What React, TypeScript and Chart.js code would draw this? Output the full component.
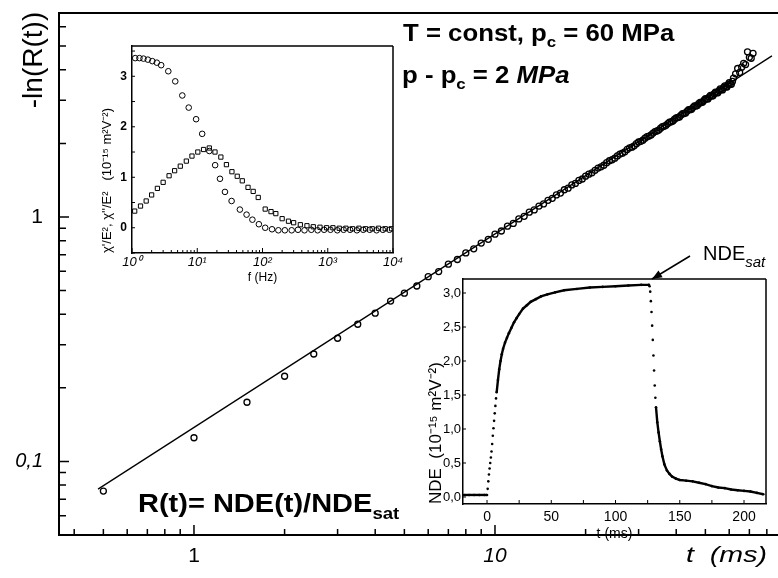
import React, { useEffect, useRef } from "react";
import { Chart, registerables } from "chart.js";

Chart.register(...registerables);

const FONT = "'Liberation Sans', Arial, Helvetica, sans-serif";

// ---------------- main plot: -ln(R(t)) versus t (ms), log-log ----------------
const timeMs = [
  0.5, 1, 1.5, 2, 2.5, 3, 3.5, 4, 4.5, 5, 5.5, 6, 6.5, 7, 7.5, 8, 8.5, 9, 9.5, 10,
  10.5, 11, 11.5, 12, 12.5, 13, 13.5, 14, 14.5, 15, 15.5, 16, 16.5, 17, 17.5, 18, 18.5, 19, 19.5, 20,
  20.5, 21, 21.5, 22, 22.5, 23, 23.5, 24, 24.5, 25,
  25.5, 26, 26.5, 27, 27.5, 28, 28.5, 29, 29.5, 30,
  30.5, 31, 31.5, 32, 32.5, 33, 33.5, 34, 34.5, 35,
  35.5, 36, 36.5, 37, 37.5, 38, 38.5, 39, 39.5, 40,
  40.5, 41, 41.5, 42, 42.5, 43, 43.5, 44, 44.5, 45,
  45.5, 46, 46.5, 47, 47.5, 48, 48.5, 49, 49.5, 50,
  50.5, 51, 51.5, 52, 52.5, 53, 53.5, 54, 54.5, 55,
  55.5, 56, 56.5, 57, 57.5, 58, 58.5, 59, 59.5, 60,
  60.5, 61, 61.5, 62,
  63, 64, 65, 66, 67, 68, 69, 70, 71, 72,
];
const minusLnR = [
  0.0756, 0.125, 0.1746, 0.223, 0.275, 0.319, 0.364, 0.404, 0.453, 0.488, 0.522, 0.57, 0.598, 0.641, 0.67, 0.713, 0.741, 0.782, 0.81, 0.85,
  0.876, 0.917, 0.941, 0.982, 1.006, 1.046, 1.069, 1.108, 1.131, 1.17, 1.192, 1.231, 1.253, 1.292, 1.312, 1.352, 1.371, 1.411, 1.43, 1.469,
  1.497, 1.516, 1.552, 1.585, 1.603, 1.628, 1.668, 1.698, 1.714, 1.74,
  1.778, 1.808, 1.823, 1.848, 1.889, 1.918, 1.93, 1.955, 1.995, 2.026,
  2.04, 2.062, 2.101, 2.131, 2.143, 2.166, 2.205, 2.236, 2.247, 2.268,
  2.308, 2.34, 2.35, 2.37, 2.411, 2.442, 2.45, 2.47, 2.513, 2.545,
  2.552, 2.567, 2.612, 2.646, 2.65, 2.665, 2.712, 2.745, 2.748, 2.76,
  2.81, 2.845, 2.845, 2.855, 2.907, 2.945, 2.94, 2.95, 3.003, 3.045,
  3.035, 3.04, 3.098, 3.142, 3.128, 3.13, 3.195, 3.24, 3.225, 3.22,
  3.29, 3.34, 3.318, 3.31, 3.385, 3.44, 3.41, 3.4, 3.476, 3.54,
  3.5, 3.49, 3.585, 3.7,
  3.85, 4.05, 3.9, 4.1, 4.25, 4.2, 4.74, 4.5, 4.46, 4.67,
];
const fitTimeMs = [0.48, 83.2];
const fitMinusLnR = [0.077, 4.56];
const mainXTickValues = [1, 10];
const mainXTickLabels = ["1", "10"];
const mainYTickValues = [0.1, 1];
const mainYTickLabels = ["0,1", "1"];

// ---------------- inset 1: susceptibility spectra ----------------
const chiRealFreqHz = [
  1.12, 1.3, 1.5, 1.75, 2.05, 2.4, 2.8, 3.6, 4.6, 5.9, 7.4, 9.6, 11.9, 15.3, 18.8, 22.3, 26.6,
  33.6, 45, 57, 70, 88, 110, 140, 175, 220, 280, 350, 440, 560, 700, 880, 1100, 1400, 1750,
  2200, 2800, 3500, 4400, 5600, 7000, 8800,
];
const chiReal = [
  3.36, 3.36, 3.35, 3.33, 3.3, 3.27, 3.22, 3.1, 2.9, 2.62, 2.38, 2.15, 1.86, 1.52, 1.24, 0.97, 0.71,
  0.53, 0.36, 0.26, 0.16, 0.07, 0.0, -0.03, -0.05, -0.05, -0.05, -0.04, -0.05, -0.04, -0.05, -0.04,
  -0.04, -0.05, -0.04, -0.04, -0.05, -0.04, -0.04, -0.05, -0.04, -0.04,
];
const chiImagFreqHz = [
  1.1, 1.35, 1.65, 2.0, 2.45, 3.0, 3.7, 4.5, 5.5, 6.8, 8.3, 10.2, 12.5, 15.3, 18.7, 23, 28, 34, 41,
  49, 60, 72, 86, 110, 135, 160, 200, 250, 300, 380, 480, 600, 760, 960, 1200, 1500, 1900, 2400,
  3000, 3800, 4800, 6000, 7600, 9500,
];
const chiImag = [
  0.33, 0.43, 0.53, 0.65, 0.78, 0.9, 1.03, 1.13, 1.22, 1.32, 1.42, 1.5, 1.55, 1.58, 1.5, 1.4, 1.25,
  1.11, 1.02, 0.93, 0.8, 0.72, 0.6, 0.37, 0.32, 0.28, 0.18, 0.13, 0.1, 0.06, 0.04, 0.02, 0.01, 0.0,
  0.0, -0.01, -0.01, -0.02, -0.01, -0.02, -0.02, -0.01, -0.02, -0.02,
];
const inset1XTickValues = [1, 10, 100, 1000, 10000];
const inset1XTickLabels = ["10\u2070", "10\u00B9", "10\u00B2", "10\u00B3", "10\u2074"];
const inset1YTickValues = [0, 1, 2, 3];
const inset1YTickLabels = ["0", "1", "2", "3"];

// ---------------- inset 2: NDE(t) ----------------
const ndeTimeMs = [
  -18, -14, -10, -6, -2, 0,
  0.5, 1, 1.5, 2, 2.5, 3, 3.5, 4, 4.5, 5, 5.5, 6, 6.5, 7, 7.5,
  8.5, 9.5, 10.5, 11.5, 12.5, 14, 15.5, 17, 19, 21, 23, 25, 28, 31, 34, 38, 42, 47, 53, 60, 70, 80,
  90, 100, 110, 120, 126,
  126.5, 127, 127.5, 128, 128.5, 129, 129.5, 130, 130.5, 131, 131.5,
  132.5, 133.5, 134.5, 135.5, 136.5, 138, 140, 142, 144, 147, 150, 155, 160, 165, 170, 175, 180,
  185, 190, 195, 200, 205, 210, 215,
];
const ndeValue = [
  0.03, 0.03, 0.03, 0.03, 0.03, 0.03,
  0.12, 0.23, 0.33, 0.42, 0.5, 0.58, 0.67, 0.78, 0.9, 1.01, 1.12, 1.23, 1.34, 1.45, 1.54,
  1.72, 1.88, 2.0, 2.1, 2.18, 2.27, 2.34, 2.41, 2.49, 2.57, 2.63, 2.69, 2.77, 2.82, 2.87, 2.91, 2.95,
  2.98, 3.01, 3.04, 3.06, 3.08, 3.09, 3.1, 3.11, 3.12, 3.12,
  3.1, 3.02, 2.88, 2.72, 2.52, 2.31, 2.08, 1.86, 1.64, 1.46, 1.32,
  1.1, 0.95, 0.82, 0.7, 0.6, 0.48, 0.39, 0.34, 0.3, 0.27, 0.25, 0.24, 0.23, 0.21, 0.19, 0.16, 0.14,
  0.13, 0.11, 0.1, 0.09, 0.08, 0.06, 0.04,
];
const inset2XTickValues = [0, 50, 100, 150, 200];
const inset2YTickValues = [0, 0.5, 1, 1.5, 2, 2.5, 3];
const inset2YTickLabels = ["0,0", "0,5", "1,0", "1,5", "2,0", "2,5", "3,0"];

// ---------------- helpers ----------------
type TickMark = { v: number; len: number };

function logTickMarks(min: number, max: number, majorLen: number, minorLen: number): TickMark[] {
  const out: TickMark[] = [];
  const e0 = Math.floor(Math.log10(min));
  const e1 = Math.ceil(Math.log10(max));
  for (let e = e0; e <= e1; e++) {
    for (let m = 1; m <= 9; m++) {
      const v = m * Math.pow(10, e);
      if (v >= min * 0.9999 && v <= max * 1.0001) out.push({ v, len: m === 1 ? majorLen : minorLen });
    }
  }
  return out;
}

function linTickMarks(from: number, to: number, step: number, len: number): TickMark[] {
  const out: TickMark[] = [];
  const n = Math.round((to - from) / step);
  for (let i = 0; i <= n; i++) out.push({ v: from + i * step, len });
  return out;
}

// fix a scale's size and drop the extra label overhang padding
function fixSize(size: number) {
  return (s: any) => {
    if (s.isHorizontal()) s.height = size;
    else s.width = size;
    s.paddingTop = 0;
    s.paddingBottom = 0;
    s.paddingLeft = 0;
    s.paddingRight = 0;
  };
}

const noGrid = { display: false, drawTicks: false };

function framePlugin(opts: {
  x: TickMark[];
  y: TickMark[];
  top: boolean;
  right: boolean;
  frameWidth: number;
  tickWidth: number;
}) {
  return {
    id: "frameTicks",
    afterDraw(chart: any) {
      const { ctx, chartArea: a, scales } = chart;
      ctx.save();
      ctx.strokeStyle = "#000";
      ctx.lineWidth = opts.tickWidth;
      ctx.beginPath();
      for (const t of opts.x) {
        const px = scales.x.getPixelForValue(t.v);
        ctx.moveTo(px, a.bottom);
        ctx.lineTo(px, a.bottom - t.len);
      }
      for (const t of opts.y) {
        const py = scales.y.getPixelForValue(t.v);
        ctx.moveTo(a.left, py);
        ctx.lineTo(a.left + t.len, py);
      }
      ctx.stroke();
      ctx.lineWidth = opts.frameWidth;
      ctx.beginPath();
      if (opts.top) {
        ctx.moveTo(a.left, a.top);
        ctx.lineTo(a.right, a.top);
      }
      if (opts.right) {
        ctx.moveTo(a.right, a.top);
        ctx.lineTo(a.right, a.bottom);
      }
      ctx.stroke();
      ctx.restore();
    },
  };
}

type Run = { text: string; font: string; dy?: number };
function drawRuns(ctx: CanvasRenderingContext2D, runs: Run[], x: number, y: number, sx = 1) {
  ctx.save();
  ctx.translate(x, y);
  ctx.scale(sx, 1);
  ctx.textAlign = "left";
  ctx.textBaseline = "alphabetic";
  let cx = 0;
  for (const r of runs) {
    ctx.font = r.font;
    ctx.fillText(r.text, cx, r.dy || 0);
    cx += ctx.measureText(r.text).width;
  }
  ctx.restore();
}

const mainTextPlugin = {
  id: "mainText",
  afterDraw(chart: any) {
    const ctx: CanvasRenderingContext2D = chart.ctx;
    ctx.save();
    ctx.fillStyle = "#000";
    ctx.strokeStyle = "#000";

    // y axis title
    ctx.save();
    ctx.translate(42, 60);
    ctx.rotate(-Math.PI / 2);
    ctx.textAlign = "center";
    ctx.textBaseline = "alphabetic";
    ctx.font = `28px ${FONT}`;
    ctx.fillText("-ln(R(t))", 0, 0);
    ctx.restore();

    // x axis title
    drawRuns(ctx, [{ text: "t  (ms)", font: `italic 22px ${FONT}` }], 686, 562, 1.3);

    // conditions
    const b23 = `bold 23px ${FONT}`;
    const b15 = `bold 15px ${FONT}`;
    drawRuns(
      ctx,
      [
        { text: "T = const, p", font: b23 },
        { text: "c", font: b15, dy: 6 },
        { text: " = 60 MPa", font: b23 },
      ],
      403,
      41,
      1.12
    );
    drawRuns(
      ctx,
      [
        { text: "p - p", font: b23 },
        { text: "c", font: b15, dy: 6 },
        { text: " = 2 ", font: b23 },
        { text: "MPa", font: `italic bold 23px ${FONT}` },
      ],
      402,
      83,
      1.12
    );

    // definition
    drawRuns(
      ctx,
      [
        { text: "R(t)= NDE(t)/NDE", font: `bold 25px ${FONT}` },
        { text: "sat", font: `bold 16px ${FONT}`, dy: 7 },
      ],
      138,
      512,
      1.16
    );

    // NDE_sat label with arrow
    drawRuns(
      ctx,
      [
        { text: "NDE", font: `20px ${FONT}` },
        { text: "sat", font: `italic 15px ${FONT}`, dy: 7 },
      ],
      703,
      260,
      1
    );
    const x0 = 690, y0 = 256, x1 = 652, y1 = 279;
    ctx.lineWidth = 1.5;
    ctx.beginPath();
    ctx.moveTo(x0, y0);
    ctx.lineTo(x1, y1);
    ctx.stroke();
    const ang = Math.atan2(y1 - y0, x1 - x0);
    const L = 10, W = 4;
    ctx.beginPath();
    ctx.moveTo(x1, y1);
    ctx.lineTo(x1 - L * Math.cos(ang) + W * Math.sin(ang), y1 - L * Math.sin(ang) - W * Math.cos(ang));
    ctx.lineTo(x1 - L * Math.cos(ang) - W * Math.sin(ang), y1 - L * Math.sin(ang) + W * Math.cos(ang));
    ctx.closePath();
    ctx.fill();
    ctx.restore();
  },
};

const MAIN_X_MIN = 0.3561;
const MAIN_X_MAX = 87.14;
const MAIN_Y_MIN = 0.05;
const MAIN_Y_MAX = 6.83;

export default function App() {
  const mainRef = useRef<HTMLCanvasElement | null>(null);
  const inset1Ref = useRef<HTMLCanvasElement | null>(null);
  const inset2Ref = useRef<HTMLCanvasElement | null>(null);

  useEffect(() => {
    const charts: Chart[] = [];

    // ---------- main chart ----------
    charts.push(
      new Chart(mainRef.current as HTMLCanvasElement, {
        type: "scatter",
        data: {
          datasets: [
            {
              label: "-ln(R(t))",
              data: timeMs.map((t, i) => ({ x: t, y: minusLnR[i] })),
              showLine: false,
              pointStyle: "circle",
              pointRadius: 3,
              pointBorderWidth: 1.3,
              borderColor: "#000",
              backgroundColor: "rgba(0,0,0,0)",
            },
            {
              label: "fit",
              data: fitTimeMs.map((t, i) => ({ x: t, y: fitMinusLnR[i] })),
              showLine: true,
              pointRadius: 0,
              borderColor: "#000",
              borderWidth: 1.3,
            },
          ],
        },
        options: {
          responsive: false,
          animation: false,
          devicePixelRatio: 1,
          layout: { autoPadding: false, padding: { top: 13, right: 0, left: 0, bottom: 0 } },
          plugins: { legend: { display: false }, tooltip: { enabled: false } },
          scales: {
            x: {
              type: "logarithmic",
              position: "bottom",
              min: MAIN_X_MIN,
              max: MAIN_X_MAX,
              afterBuildTicks: (s: any) => {
                s.ticks = mainXTickValues.map((v) => ({ value: v }));
              },
              ticks: {
                callback: (v: any) => mainXTickLabels[mainXTickValues.indexOf(Number(v))] ?? "",
                font: (c: any) => ({
                  family: FONT,
                  size: 21,
                  style: c.tick && c.tick.value === 10 ? "italic" : "normal",
                }),
                color: "#000",
                padding: 9,
                maxRotation: 0,
                autoSkip: false,
              },
              grid: noGrid,
              border: { display: true, color: "#000", width: 2 },
              afterFit: fixSize(43),
            },
            y: {
              type: "logarithmic",
              position: "left",
              min: MAIN_Y_MIN,
              max: MAIN_Y_MAX,
              afterBuildTicks: (s: any) => {
                s.ticks = mainYTickValues.map((v) => ({ value: v }));
              },
              ticks: {
                callback: (v: any) => mainYTickLabels[mainYTickValues.indexOf(Number(v))] ?? "",
                font: (c: any) => ({
                  family: FONT,
                  size: c.tick && c.tick.value === 1 ? 21 : 20,
                  style: c.tick && c.tick.value === 0.1 ? "italic" : "normal",
                }),
                color: "#000",
                padding: 16,
                autoSkip: false,
              },
              grid: noGrid,
              border: { display: true, color: "#000", width: 2 },
              afterFit: fixSize(59),
            },
          },
        },
        plugins: [
          framePlugin({
            x: logTickMarks(MAIN_X_MIN, MAIN_X_MAX, 10, 6),
            y: logTickMarks(MAIN_Y_MIN, MAIN_Y_MAX, 10, 7),
            top: true,
            right: false,
            frameWidth: 2,
            tickWidth: 1.5,
          }),
          mainTextPlugin,
        ],
      } as any)
    );

    // ---------- inset 1 ----------
    charts.push(
      new Chart(inset1Ref.current as HTMLCanvasElement, {
        type: "scatter",
        data: {
          datasets: [
            {
              label: "\u03C7'/E\u00B2",
              data: chiRealFreqHz.map((f, i) => ({ x: f, y: chiReal[i] })),
              pointStyle: "circle",
              pointRadius: 2.8,
              pointBorderWidth: 1,
              borderColor: "#000",
              backgroundColor: "rgba(0,0,0,0)",
            },
            {
              label: "\u03C7''/E\u00B2",
              data: chiImagFreqHz.map((f, i) => ({ x: f, y: chiImag[i] })),
              pointStyle: "rect",
              pointRadius: 3,
              pointBorderWidth: 1,
              borderColor: "#000",
              backgroundColor: "rgba(0,0,0,0)",
            },
          ],
        },
        options: {
          responsive: false,
          animation: false,
          devicePixelRatio: 1,
          layout: { autoPadding: false, padding: { top: 8, right: 12, left: 0, bottom: 0 } },
          plugins: { legend: { display: false }, tooltip: { enabled: false } },
          scales: {
            x: {
              type: "logarithmic",
              position: "bottom",
              min: 1,
              max: 10000,
              afterBuildTicks: (s: any) => {
                s.ticks = inset1XTickValues.map((v) => ({ value: v }));
              },
              ticks: {
                callback: (v: any) => inset1XTickLabels[inset1XTickValues.indexOf(Number(v))] ?? "",
                font: { family: FONT, size: 13, style: "italic" },
                color: "#000",
                padding: 2,
                maxRotation: 0,
                autoSkip: false,
              },
              title: {
                display: true,
                text: "f (Hz)",
                font: { family: FONT, size: 12 },
                color: "#000",
                padding: { top: 0, bottom: 8 },
              },
              grid: noGrid,
              border: { display: true, color: "#000", width: 1.5 },
              afterFit: fixSize(40),
            },
            y: {
              type: "linear",
              position: "left",
              min: -0.5,
              max: 3.6,
              afterBuildTicks: (s: any) => {
                s.ticks = inset1YTickValues.map((v) => ({ value: v }));
              },
              ticks: {
                callback: (v: any) => inset1YTickLabels[inset1YTickValues.indexOf(Number(v))] ?? "",
                font: { family: FONT, size: 12, weight: "bold" },
                color: "#000",
                padding: 5,
                autoSkip: false,
              },
              title: {
                display: true,
                text: "\u03C7'/E\u00B2, \u03C7''/E\u00B2   (10\u207B\u00B9\u2075 m\u00B2V\u207B\u00B2)",
                align: "start",
                font: { family: FONT, size: 13 },
                color: "#000",
                padding: { top: 5, bottom: 0 },
              },
              grid: noGrid,
              border: { display: true, color: "#000", width: 1.5 },
              afterFit: fixSize(37),
            },
          },
        },
        plugins: [
          framePlugin({
            x: logTickMarks(1, 10000, 5, 3),
            y: linTickMarks(-0.5, 3.5, 0.5, 3),
            top: true,
            right: true,
            frameWidth: 1.5,
            tickWidth: 1,
          }),
        ],
      } as any)
    );

    // ---------- inset 2 ----------
    charts.push(
      new Chart(inset2Ref.current as HTMLCanvasElement, {
        type: "scatter",
        data: {
          datasets: [
            {
              label: "NDE",
              data: ndeTimeMs.map((t, i) => ({ x: t, y: ndeValue[i] })),
              showLine: true,
              borderColor: "#000",
              borderWidth: 2.4,
              pointRadius: 1.3,
              pointBorderWidth: 0,
              pointBackgroundColor: "#000",
              backgroundColor: "#000",
              segment: {
                borderColor: (c: any) =>
                  Math.abs(c.p1.x - c.p0.x) < 1 ? "rgba(0,0,0,0)" : "#000",
              },
            },
          ],
        },
        options: {
          responsive: false,
          animation: false,
          devicePixelRatio: 1,
          layout: { autoPadding: false, padding: { top: 9, right: 12, left: 0, bottom: 0 } },
          plugins: { legend: { display: false }, tooltip: { enabled: false } },
          scales: {
            x: {
              type: "linear",
              position: "bottom",
              min: -18.7,
              max: 217.1,
              afterBuildTicks: (s: any) => {
                s.ticks = inset2XTickValues.map((v) => ({ value: v }));
              },
              ticks: {
                callback: (v: any) => String(v),
                font: { family: FONT, size: 14 },
                color: "#000",
                padding: 5,
                maxRotation: 0,
                autoSkip: false,
              },
              title: {
                display: true,
                text: "t (ms)",
                font: { family: FONT, size: 14 },
                color: "#000",
                padding: { top: 0, bottom: 2 },
              },
              grid: noGrid,
              border: { display: true, color: "#000", width: 1.5 },
              afterFit: fixSize(41),
            },
            y: {
              type: "linear",
              position: "left",
              min: -0.103,
              max: 3.206,
              afterBuildTicks: (s: any) => {
                s.ticks = inset2YTickValues.map((v) => ({ value: v }));
              },
              ticks: {
                callback: (v: any) => inset2YTickLabels[inset2YTickValues.indexOf(Number(v))] ?? "",
                font: { family: FONT, size: 13 },
                color: "#000",
                padding: 2,
                autoSkip: false,
              },
              title: {
                display: true,
                text: "NDE  (10\u207B\u00B9\u2075 m\u00B2V\u207B\u00B2)",
                align: "start",
                font: { family: FONT, size: 17 },
                color: "#000",
                padding: { top: 6, bottom: 0 },
              },
              grid: noGrid,
              border: { display: true, color: "#000", width: 1.5 },
              afterFit: fixSize(43),
            },
          },
        },
        plugins: [
          framePlugin({
            x: linTickMarks(0, 200, 25, 4),
            y: linTickMarks(0, 3, 0.5, 3),
            top: true,
            right: true,
            frameWidth: 1.5,
            tickWidth: 1,
          }),
        ],
      } as any)
    );

    return () => {
      charts.forEach((c) => c.destroy());
    };
  }, []);

  return (
    <div
      style={{
        position: "fixed",
        left: 0,
        top: 0,
        width: 778,
        height: 578,
        background: "#fff",
        overflow: "hidden",
      }}
    >
      <canvas ref={mainRef} width={778} height={578} style={{ position: "absolute", left: 0, top: 0 }} />
      <canvas ref={inset1Ref} width={310} height={255} style={{ position: "absolute", left: 95, top: 38 }} />
      <canvas ref={inset2Ref} width={358} height={275} style={{ position: "absolute", left: 420, top: 270 }} />
    </div>
  );
}
